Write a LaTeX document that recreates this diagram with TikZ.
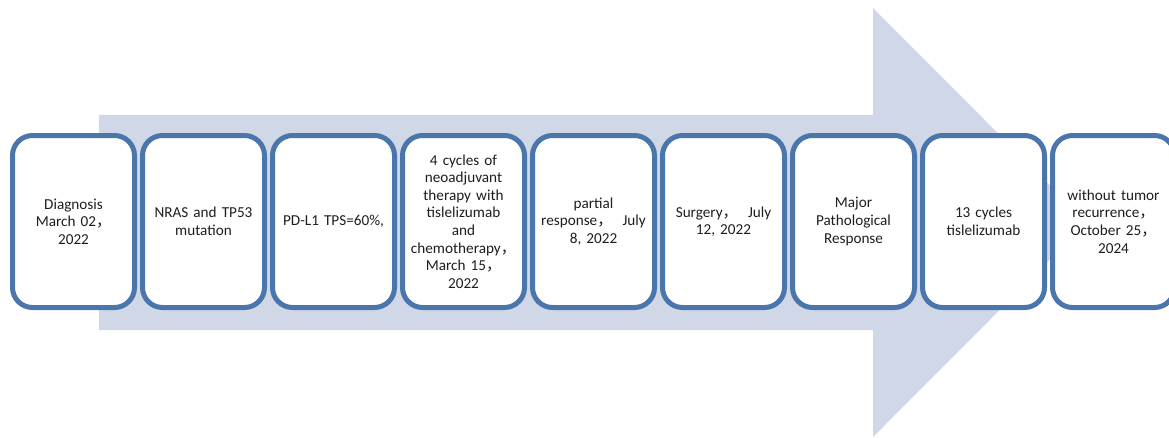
\documentclass[tikz,border=0pt]{standalone}
\usepackage{fontspec}
\setmainfont{Carlito}
\newfontfamily\cjk{Noto Sans CJK SC}
\newcommand{\fc}{{\cjk ，}}
\definecolor{boxline}{HTML}{4A76AB}
\definecolor{arrowfill}{HTML}{D0D8E8}
\definecolor{txt}{HTML}{1E1E1E}
\begin{document}
\begin{tikzpicture}[x=1pt,y=-1pt,
  stepbox/.style={draw=boxline, line width=5pt, fill=white, rounded corners=20pt,
    minimum width=122pt, minimum height=172pt, inner sep=0pt, text width=118pt,
    align=center, text=txt, font=\fontsize{15.2}{17.6}\selectfont}]
\clip (0,0) rectangle (1169,437);
\fill[arrowfill] (99,115) -- (873,115) -- (873,8) -- (1087,222.5) -- (873,437) -- (873,330) -- (99,330) -- cycle;
\node[stepbox] (b1) at (73.5,221.5) {Diagnosis\\March 02\fc\\2022};
\node[stepbox] (b2) at (203.5,221.5) {NRAS and TP53\\mutation};
\node[stepbox] (b3) at (333.5,221.5) {PD-L1 TPS=60\%,};
\node[stepbox] (b4) at (463.5,221.5) {4 cycles of\\neoadjuvant\\therapy with\\tislelizumab\\and\\chemotherapy\fc\\March 15\fc\\2022};
\node[stepbox] (b5) at (593.5,221.5) {partial\\response\fc\ \ July\\8, 2022};
\node[stepbox] (b6) at (723.5,221.5) {Surgery\fc\ \ July\\12, 2022};
\node[stepbox] (b7) at (853.5,221.5) {Major\\Pathological\\Response};
\node[stepbox] (b8) at (983.5,221.5) {13 cycles\\tislelizumab};
\node[stepbox] (b9) at (1113.5,221.5) {without tumor\\recurrence\fc\\October 25\fc\\2024};
\end{tikzpicture}
\end{document}
